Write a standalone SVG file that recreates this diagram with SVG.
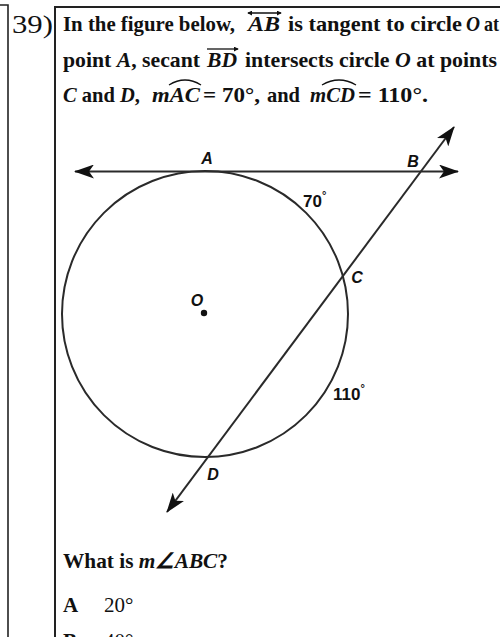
<svg xmlns="http://www.w3.org/2000/svg" width="500" height="637" viewBox="0 0 500 637">
<defs>
<style>
.q{font-family:"Liberation Serif","Times New Roman",serif;font-size:21px;font-weight:bold;fill:#111}
.r{font-family:"Liberation Serif","Times New Roman",serif;font-size:21px;fill:#111}
.i{font-style:italic}
.lbl{font-family:"Liberation Sans",Arial,sans-serif;font-size:16px;font-weight:bold;font-style:italic;fill:#111}
.deg{font-family:"Liberation Sans",Arial,sans-serif;font-size:17px;font-weight:bold;fill:#111}
.ln{stroke:#2a2a2a;stroke-width:2;fill:none}
.frame{stroke:#222;fill:none}
.ov{stroke:#111;stroke-width:1.3;fill:none}
</style>
<marker id="ah" viewBox="0 0 20 14" refX="19" refY="7" markerWidth="20" markerHeight="14" markerUnits="userSpaceOnUse" orient="auto-start-reverse">
<path d="M0,0 L20,7 L0,14 L5,7 Z" fill="#111"/>
</marker>
<marker id="sh" viewBox="0 0 6 6" refX="5" refY="3" markerWidth="5" markerHeight="5" markerUnits="userSpaceOnUse" orient="auto-start-reverse">
<path d="M0,0 L6,3 L0,6 Z" fill="#111"/>
</marker>
</defs>
<g id="frame">
<path class="frame" stroke-width="1.6" d="M0,5 H8 V637"/>
<path class="frame" stroke-width="2" d="M500,7 H55 V637"/>
</g>
<g id="number">
<text x="12" y="33" font-family="Liberation Serif,'Times New Roman',serif" font-size="26" fill="#111" textLength="41" lengthAdjust="spacingAndGlyphs">39)</text>
</g>
<g id="question">
<text class="q" x="63" y="31" textLength="172" lengthAdjust="spacingAndGlyphs">In the figure below,</text>
<text class="q i" x="248" y="31" textLength="32" lengthAdjust="spacingAndGlyphs">AB</text>
<text class="q" x="288" y="31" textLength="174" lengthAdjust="spacingAndGlyphs">is tangent to circle</text>
<text class="q i" x="466" y="31" textLength="14" lengthAdjust="spacingAndGlyphs">O</text>
<text class="q" x="484" y="31" textLength="15" lengthAdjust="spacingAndGlyphs">at</text>
<text class="q" x="63" y="67" textLength="137" lengthAdjust="spacingAndGlyphs">point <tspan class="i">A</tspan>, secant</text>
<text class="q i" x="207" y="67" textLength="30" lengthAdjust="spacingAndGlyphs">BD</text>
<text class="q" x="245" y="67" textLength="252" lengthAdjust="spacingAndGlyphs">intersects circle <tspan class="i">O</tspan> at points</text>
<text class="q" x="63" y="102" textLength="77" lengthAdjust="spacingAndGlyphs"><tspan class="i">C</tspan> and <tspan class="i">D</tspan>,</text>
<text class="q i" x="152" y="102" textLength="48" lengthAdjust="spacingAndGlyphs">mAC</text>
<text class="q" x="203" y="102" textLength="57" lengthAdjust="spacingAndGlyphs">= 70°,</text>
<text class="q" x="267" y="102" textLength="33" lengthAdjust="spacingAndGlyphs">and</text>
<text class="q i" x="310" y="102" textLength="45" lengthAdjust="spacingAndGlyphs">mCD</text>
<text class="q" x="358" y="102" textLength="70" lengthAdjust="spacingAndGlyphs">= 110°.</text>
<line class="ov" x1="248" y1="13" x2="281" y2="13" marker-start="url(#sh)" marker-end="url(#sh)"/>
<line class="ov" x1="207" y1="49" x2="238" y2="49" marker-end="url(#sh)"/>
<path class="ov" d="M169,85 Q185,75 201,85"/>
<path class="ov" d="M322,85 Q339,75 356,85"/>
</g>
<g id="circle">
<circle class="ln" cx="205" cy="314" r="143" stroke-width="1.8"/>
<circle cx="204" cy="313" r="3.2" fill="#111"/>
</g>
<g id="connectors">
<line class="ln" x1="75" y1="171.5" x2="458" y2="171.5" marker-start="url(#ah)" marker-end="url(#ah)"/>
<line class="ln" x1="167" y1="512" x2="454" y2="127" marker-start="url(#ah)" marker-end="url(#ah)"/>
</g>
<g id="labels">
<text class="lbl" x="207" y="164" text-anchor="middle">A</text>
<text class="lbl" x="413" y="167" text-anchor="middle">B</text>
<text class="lbl" x="357" y="283" text-anchor="middle">C</text>
<text class="lbl" x="213" y="480" text-anchor="middle">D</text>
<text class="lbl" x="197" y="306" text-anchor="middle">O</text>
<text class="deg" x="303" y="207">70<tspan font-size="11" dy="-8">°</tspan></text>
<text class="deg" x="333" y="400">110<tspan font-size="11" dy="-8">°</tspan></text>
</g>
<g id="answers">
<text class="q" x="63" y="568" textLength="165" lengthAdjust="spacingAndGlyphs">What is <tspan class="i">m∠ABC</tspan>?</text>
<text class="q" x="63" y="612">A</text>
<text class="r" x="104" y="612">20°</text>
<text class="q" x="63" y="648">B</text>
<text class="r" x="104" y="648">40°</text>
</g>
</svg>
